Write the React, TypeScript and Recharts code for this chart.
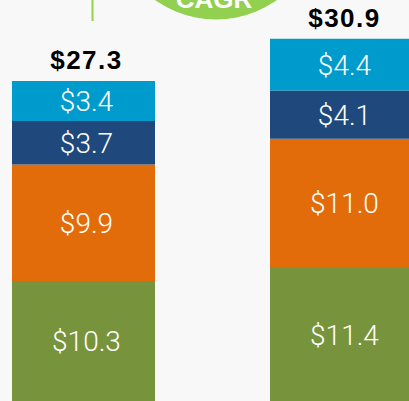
import { Bar, BarChart, LabelList, XAxis, YAxis } from "recharts";

const categories = ["Year 1", "Year 2"];
const baseValues = [10.3, 11.4];
const secondValues = [9.9, 11.0];
const thirdValues = [3.7, 4.1];
const topValues = [3.4, 4.4];

const data = categories.map((name, i) => ({
  name,
  base: baseValues[i],
  second: secondValues[i],
  third: thirdValues[i],
  top: topValues[i],
  total: baseValues[i] + secondValues[i] + thirdValues[i] + topValues[i],
}));

const fmt = (v: number) => `$${v.toFixed(1)}`;

function InnerLabel(props: any) {
  const vb = props.viewBox || props;
  const x = Number(vb.x ?? props.x);
  const y = Number(vb.y ?? props.y);
  const w = Number(vb.width ?? props.width);
  const h = Number(vb.height ?? props.height);
  return (
    <text
      x={x + w / 2 + 3}
      y={y + h / 2 + 10}
      textAnchor="middle"
      fill="#ffffff"
      fontSize={28}
      fontWeight={300}
      fontFamily="Roboto, sans-serif"
    >
      {fmt(Number(props.value))}
    </text>
  );
}

function TotalLabel(props: any) {
  const vb = props.viewBox || props;
  const x = Number(vb.x ?? props.x);
  const y = Number(vb.y ?? props.y);
  const w = Number(vb.width ?? props.width);
  const total = data[props.index]?.total ?? 0;
  return (
    <text
      x={x + w / 2 + 3}
      y={y - 12}
      textAnchor="middle"
      fill="#000000"
      fontSize={26}
      fontWeight="bold"
      letterSpacing={1.5}
      fontFamily="'Liberation Sans', Arial, sans-serif"
    >
      {fmt(total)}
    </text>
  );
}

export default function App() {
  return (
    <div
      style={{
        position: "fixed",
        left: 0,
        top: 0,
        width: 409,
        height: 401,
        overflow: "hidden",
        background: "#f8f8f8",
      }}
    >
      <div style={{ position: "absolute", left: -46.5, top: 0 }}>
        <BarChart width={516} height={402} data={data} margin={{ top: 0, right: 0, bottom: 0, left: 0 }} barSize={143}>
          <XAxis dataKey="name" hide />
          <YAxis hide domain={[0, 34.2]} allowDataOverflow />
          <Bar dataKey="base" stackId="s" fill="#77933c" isAnimationActive={false}>
            <LabelList dataKey="base" content={InnerLabel} />
          </Bar>
          <Bar dataKey="second" stackId="s" fill="#e36c0a" isAnimationActive={false}>
            <LabelList dataKey="second" content={InnerLabel} />
          </Bar>
          <Bar dataKey="third" stackId="s" fill="#1f497c" isAnimationActive={false}>
            <LabelList dataKey="third" content={InnerLabel} />
          </Bar>
          <Bar dataKey="top" stackId="s" fill="#009bcd" isAnimationActive={false}>
            <LabelList dataKey="top" content={InnerLabel} />
            <LabelList dataKey="total" content={TotalLabel} />
          </Bar>
        </BarChart>
      </div>
      <svg width={409} height={401} style={{ position: "absolute", left: 0, top: 0, pointerEvents: "none" }}>
        <line x1={92.5} y1={0} x2={92.5} y2={21} stroke="#92d050" strokeWidth={2} />
        <circle cx={216} cy={-85.5} r={105} fill="#92d050" />
        <text
          x={214}
          y={8}
          textAnchor="middle"
          fill="#ffffff"
          fontSize={26}
          fontWeight="bold"
          fontFamily="'Liberation Sans', Arial, sans-serif"
        >
          CAGR
        </text>
      </svg>
    </div>
  );
}
